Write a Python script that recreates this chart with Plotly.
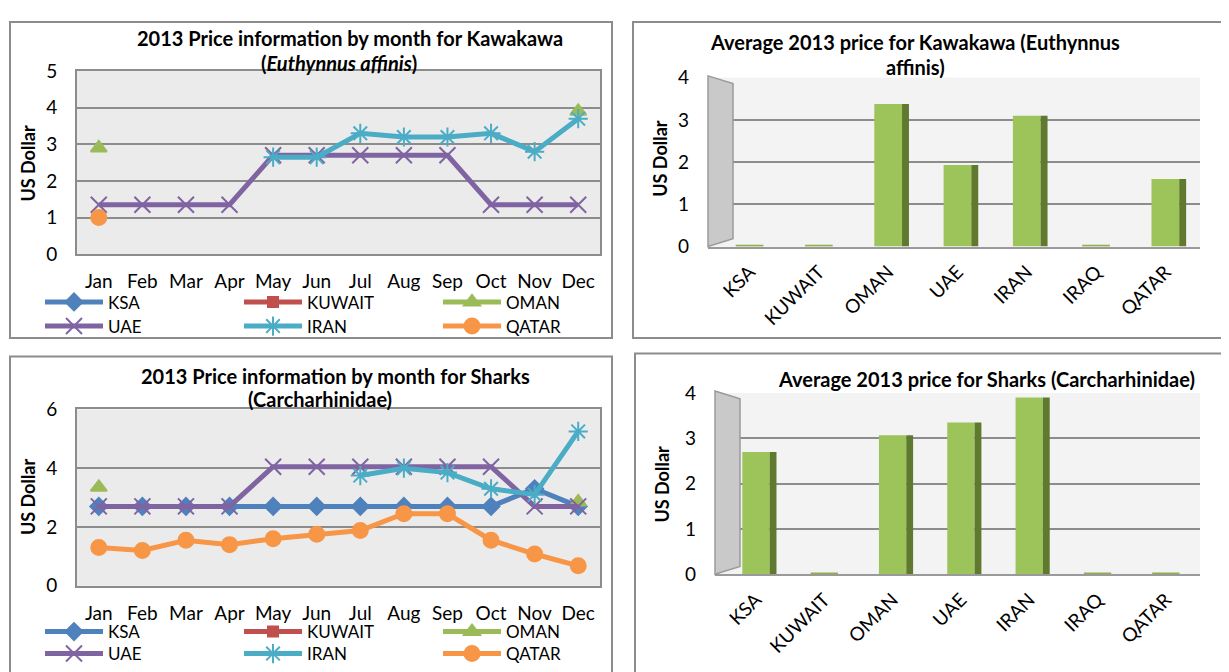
import plotly.graph_objects as go

# the page body keeps its default 8px margin, so the figure is drawn 8px in
PAD = 8
W, H = 1229 - PAD, 672 - PAD

months = ["Jan", "Feb", "Mar", "Apr", "May", "Jun", "Jul", "Aug", "Sep", "Oct", "Nov", "Dec"]
countries = ["KSA", "KUWAIT", "OMAN", "UAE", "IRAN", "IRAQ", "QATAR"]

# Kawakawa monthly prices (US$)
kaw_ksa = [None] * 12
kaw_kuwait = [None] * 12
kaw_oman = [2.9, None, None, None, None, None, None, None, None, None, None, 3.9]
kaw_uae = [1.35, 1.35, 1.35, 1.35, 2.7, 2.7, 2.7, 2.7, 2.7, 1.35, 1.35, 1.35]
kaw_iran = [None, None, None, None, 2.65, 2.65, 3.3, 3.2, 3.2, 3.3, 2.8, 3.7]
kaw_qatar = [1.0, None, None, None, None, None, None, None, None, None, None, None]

# Sharks monthly prices (US$)
shk_ksa = [2.7, 2.7, 2.7, 2.7, 2.7, 2.7, 2.7, 2.7, 2.7, 2.7, 3.3, 2.7]
shk_kuwait = [None] * 12
shk_oman = [3.35, None, None, None, None, None, None, None, None, None, None, 2.85]
shk_uae = [2.7, 2.7, 2.7, 2.7, 4.05, 4.05, 4.05, 4.05, 4.05, 4.05, 2.7, 2.7]
shk_iran = [None, None, None, None, None, None, 3.75, 4.0, 3.85, 3.3, 3.1, 5.25]
shk_qatar = [1.3, 1.2, 1.55, 1.4, 1.6, 1.75, 1.88, 2.45, 2.45, 1.55, 1.08, 0.68]

# Yearly averages
kaw_avg = [0, 0, 3.38, 1.93, 3.1, 0, 1.6]
shk_avg = [2.7, 0, 3.07, 3.35, 3.9, 0, 0]

COLORS = {
    "KSA": "#4F81BD",
    "KUWAIT": "#C0504D",
    "OMAN": "#9BBB59",
    "UAE": "#8064A2",
    "IRAN": "#4BACC6",
    "QATAR": "#F79646",
}
SYMBOLS = {
    "KSA": ("diamond", 13),
    "KUWAIT": ("square", 10),
    "OMAN": ("triangle-up", 14),
    "UAE": ("x-thin-open", 16),
    "IRAN": ("asterisk-open", 16),
    "QATAR": ("circle", 15),
}
FONT = "Lato, Calibri, sans-serif"


def fx(px):
    return (px - PAD) / W


def fy(py):
    return 1 - (py - PAD) / H


fig = go.Figure()


def add_lines(series, xa, ya, legends):
    for n, (name, vals) in enumerate(series):
        sym, size = SYMBOLS[name]
        c = COLORS[name]
        fig.add_trace(go.Scatter(
            x=months, y=vals, name=name, mode="lines+markers",
            line=dict(color=c, width=5),
            marker=dict(symbol=sym, size=size, color=c, line=dict(color=c, width=2)),
            connectgaps=False, xaxis=xa, yaxis=ya,
            legend=legends[0] if n < 3 else legends[1],
        ))


add_lines([("KSA", kaw_ksa), ("KUWAIT", kaw_kuwait), ("OMAN", kaw_oman),
           ("UAE", kaw_uae), ("IRAN", kaw_iran), ("QATAR", kaw_qatar)],
          "x", "y", ("legend", "legend2"))
add_lines([("KSA", shk_ksa), ("KUWAIT", shk_kuwait), ("OMAN", shk_oman),
           ("UAE", shk_uae), ("IRAN", shk_iran), ("QATAR", shk_qatar)],
          "x3", "y3", ("legend3", "legend4"))


def add_bars(vals, xa, ya):
    # thin slab on the floor where the average is zero
    fig.add_trace(go.Bar(x=countries, y=[0.04 if v == 0 else None for v in vals],
                         width=0.4, offset=-0.2,
                         marker=dict(color="#8DB04A", line=dict(width=0)),
                         xaxis=xa, yaxis=ya, showlegend=False, hoverinfo="skip"))
    # front face
    fig.add_trace(go.Bar(x=countries, y=vals, width=0.4, offset=-0.2,
                         marker=dict(color="#9DC35B", line=dict(width=0)),
                         xaxis=xa, yaxis=ya, showlegend=False))
    # dark side face
    fig.add_trace(go.Bar(x=countries, y=vals, width=0.1, offset=0.2,
                         marker=dict(color="#5F7A2E", line=dict(width=0)),
                         xaxis=xa, yaxis=ya, showlegend=False))


add_bars(kaw_avg, "x2", "y2")
add_bars(shk_avg, "x4", "y4")

tick_font = dict(family=FONT, size=19, color="black")

line_x = dict(type="category", range=[-0.5, 11.5], showgrid=False,
              showline=True, linecolor="#8C8C8C", linewidth=2, mirror=True,
              ticks="", ticklabelstandoff=9, tickfont=tick_font)
line_y = dict(showgrid=True, gridcolor="#8C8C8C", gridwidth=1.5,
              showline=True, linecolor="#8C8C8C", linewidth=2, mirror=True,
              ticks="", ticklabelstandoff=14, tickfont=tick_font, zeroline=False)
bar_x = dict(type="category", range=[-0.6, 6.5], showgrid=False,
             showline=True, linecolor="#9A9A9A", linewidth=2,
             ticks="", tickangle=-45, ticklabelstandoff=5,
             tickfont=dict(family=FONT, size=19, color="black"))
bar_y = dict(range=[0, 4], dtick=1, showgrid=True, gridcolor="#8C8C8C", gridwidth=2,
             showline=False, ticks="", ticklabelstandoff=18, tickfont=tick_font,
             zeroline=False)

fig.update_layout(
    width=W, height=H,
    margin=dict(l=0, r=0, t=0, b=0),
    paper_bgcolor="white",
    plot_bgcolor="#EBEBEB",
    font=dict(family=FONT, color="black"),
    barmode="overlay",
    xaxis=dict(domain=[fx(77), fx(600)], anchor="y", **line_x),
    yaxis=dict(domain=[fy(251), fy(61)], anchor="x", range=[0, 5], dtick=1, **line_y),
    xaxis2=dict(domain=[fx(708), fx(1200)], anchor="y2", **bar_x),
    yaxis2=dict(domain=[fy(243), fy(68)], anchor="x2", **bar_y),
    xaxis3=dict(domain=[fx(77), fx(600)], anchor="y3", **line_x),
    yaxis3=dict(domain=[fy(595), fy(412)], anchor="x3", range=[0, 6], dtick=2, **line_y),
    xaxis4=dict(domain=[fx(715), fx(1200)], anchor="y4", **bar_x),
    yaxis4=dict(domain=[fy(583), fy(395)], anchor="x4", **bar_y),
)

leg = dict(orientation="h", xanchor="left", yanchor="middle", x=fx(40),
           entrywidth=126, entrywidthmode="pixels", itemwidth=58,
           bgcolor="rgba(0,0,0,0)", font=dict(family=FONT, size=17, color="black"),
           tracegroupgap=0, itemclick=False)
fig.update_layout(
    legend=dict(y=fy(301), **leg),
    legend2=dict(y=fy(326), **leg),
    legend3=dict(y=fy(643), **leg),
    legend4=dict(y=fy(666), **leg),
)

# panel frames, bar chart back walls and side walls
shapes = []
for x0, y0, x1, y1 in [(10, 10, 612, 338), (633, 10, 1240, 338),
                       (10, 357, 612, 690), (635, 354, 1240, 690)]:
    shapes.append(dict(type="rect", xref="paper", yref="paper",
                       x0=fx(x0), x1=fx(x1), y0=fy(y0), y1=fy(y1),
                       line=dict(color="#8C8C8C", width=2), fillcolor="rgba(0,0,0,0)",
                       layer="below"))
for xa in ["x2", "x4"]:
    ya = "y" + xa[1:]
    shapes.append(dict(type="rect", xref=f"{xa} domain", yref=f"{ya} domain",
                       x0=0, x1=1, y0=0, y1=1, layer="below",
                       fillcolor="#F3F3F3", line=dict(width=0)))
for xl, xr, yt, yb in [(708, 733, 66, 243), (715, 740, 393, 583)]:
    shapes.append(dict(type="path", xref="paper", yref="paper", layer="above",
                       path=f"M {fx(xl)},{fy(yt)} L {fx(xr)},{fy(yt + 8)} "
                            f"L {fx(xr)},{fy(yb - 8)} L {fx(xl)},{fy(yb)} Z",
                       fillcolor="#C9C9C9", line=dict(color="#9A9A9A", width=1.5)))
fig.update_layout(shapes=shapes)

title_font = dict(family=FONT, size=20, color="black")
ann = []
for text, x, y in [
    ("<b>2013 Price information by month for Kawakawa</b>", 350, 27),
    ("<b>(<i>Euthynnus affinis</i>)</b>", 339, 53),
    ("<b>Average 2013 price for Kawakawa (Euthynnus</b>", 915, 31),
    ("<b>affinis)</b>", 915, 57),
    ("<b>2013 Price information by month for Sharks</b>", 335, 377),
    ("<b>(Carcharhinidae)</b>", 320, 401),
    ("<b>Average 2013 price for Sharks (Carcharhinidae)</b>", 986, 380),
]:
    ann.append(dict(text=text, x=fx(x), y=fy(y), xref="paper", yref="paper",
                    showarrow=False, xanchor="center", yanchor="middle", font=title_font))
for x, y in [(28, 157), (660, 152), (28, 503), (662, 490)]:
    ann.append(dict(text="<b>US Dollar</b>", x=fx(x), y=fy(y), xref="paper", yref="paper",
                    showarrow=False, textangle=-90, xanchor="center", yanchor="middle",
                    font=dict(family=FONT, size=18, color="black")))
fig.update_layout(annotations=ann)

fig.write_html("out.html")
